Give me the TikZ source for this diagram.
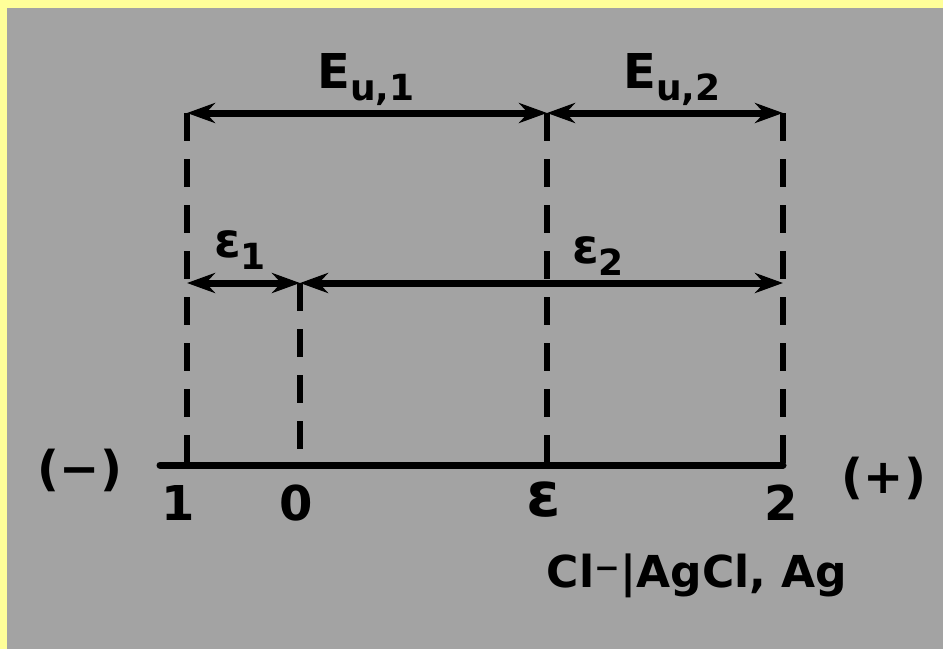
\documentclass[tikz,border=0pt]{standalone}
\usepackage{fontspec}
\setmainfont{DejaVu Sans}
\usetikzlibrary{arrows.meta}
\definecolor{bggray}{RGB}{163,163,163}
\definecolor{bgyellow}{RGB}{255,255,153}
\newcommand{\subtxt}[1]{{\fontsize{36}{36}\selectfont\raisebox{-12pt}{#1}}}
\begin{document}
\begin{tikzpicture}[x=1pt,y=-1pt,
  axis/.style={line width=7pt, line cap=round},
  dim/.style={line width=7pt, {Stealth[length=28pt,width=20pt]}-{Stealth[length=28pt,width=20pt]}},
  guide/.style={line width=6.5pt, dash pattern=on 28pt off 18pt},
  lbl/.style={font=\fontsize{48}{52}\selectfont\bfseries, inner sep=0pt}]
\useasboundingbox (0,0) rectangle (943,649);
\fill[bgyellow] (0,0) rectangle (943,649);
\fill[bggray] (7,8) rectangle (943,649);
% points
\coordinate (T1) at (187,113);
\coordinate (TE) at (547,113);
\coordinate (T2) at (783,113);
\coordinate (M1) at (187,283);
\coordinate (M0) at (300,283);
\coordinate (M2) at (783,283);
\coordinate (BL) at (160,465);
\coordinate (B1) at (187,465);
\coordinate (B0) at (300,465);
\coordinate (BE) at (547,465);
\coordinate (B2) at (783,465);
% guides
\draw[guide] (T1) -- (B1);
\draw[guide] (TE) -- (BE);
\draw[guide] (T2) -- (B2);
\draw[guide] (M0) -- (B0);
% top dimensions
\draw[dim] (T1) -- (TE);
\draw[dim] (TE) -- (T2);
% middle dimensions
\draw[dim] (M1) -- (M0);
\draw[dim] (M0) -- (M2);
% axis
\draw[axis] (BL) -- (B2);
% labels
\node[lbl] (eu1) at (366,80) {E\subtxt{u,1}};
\node[lbl] (eu2) at (672,80) {E\subtxt{u,2}};
\node[lbl] (e1) at (240,250) {ε\subtxt{1}};
\node[lbl] (e2) at (598,256) {ε\subtxt{2}};
\node[lbl] (minus) at (80,470) {(−)};
\node[lbl] (plus) at (884,478) {(+)};
\node[lbl] (l1) at (178,503) {1};
\node[lbl] (l0) at (296,503) {0};
\node[lbl, font=\fontsize{62}{64}\selectfont\bfseries] (le) at (544,500) {ε};
\node[lbl] (l2) at (781,503) {2};
\node[lbl, font=\fontsize{44}{48}\selectfont\bfseries] (cl) at (697,576) {Cl\textsuperscript{−}|AgCl, Ag};
\end{tikzpicture}
\end{document}
